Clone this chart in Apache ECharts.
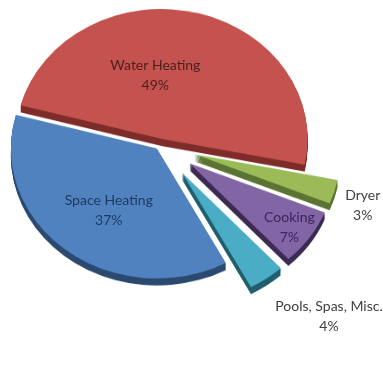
<!DOCTYPE html>
<html>
<head>
<meta charset="utf-8">
<script src="https://cdn.jsdelivr.net/npm/echarts@6/dist/echarts.min.js"></script>
<style>
html,body{margin:0;padding:0;background:#fff;}
#wrap{position:relative;width:383px;height:383px;overflow:hidden;}
#pie{position:absolute;left:0;top:0;width:383px;transform-origin:0 0;}
#lab{position:absolute;left:0;top:0;width:383px;height:383px;pointer-events:none;}
</style>
</head>
<body>
<div id="wrap"><div id="pie"></div><div id="lab"></div></div>
<script>
// ---- data ----
const categories = ['Water Heating', 'Dryer', 'Cooking', 'Pools, Spas, Misc.', 'Space Heating'];
const values = [49, 3, 7, 4, 37];

// ---- style ----
const faceColors = ['#C4524E', '#9BBB59', '#8165A5', '#4BACC6', '#5182C0'];
const sideColors = ['#7E2D2B', '#5C7434', '#3C2A52', '#215F6E', '#2C4A70'];
const textColors = ['#4a1f1f', '#404040', '#3a2560', '#404040', '#1f3a60'];
const explode = [7, 36, 36, 38, 5];
const nudgeX = [-22, 130, 67, 125, -4];
const nudgeY = [-4, 41, 44, 116, 12];

const S = 0.89;          // vertical flattening
const CX = 160, CY = 145, R = 146, DEPTH = 7, START = 165;
const FONT = 'Lato';

const pieDiv = document.getElementById('pie');
pieDiv.style.height = (383 / S) + 'px';
pieDiv.style.transform = 'scaleY(' + S + ')';

const pieChart = echarts.init(pieDiv, null, {renderer: 'canvas'});
const series = [];
const layers = [];
for (let L = DEPTH; L >= 1; L--) layers.push(L);
layers.push(0);
layers.forEach(function (L) {
  categories.forEach(function (c, i) {
    const col = L === 0 ? faceColors[i] : sideColors[i];
    series.push({
      type: 'pie',
      radius: R,
      center: [CX, (CY + L) / S],
      startAngle: START,
      clockwise: true,
      selectedMode: 'multiple',
      selectedOffset: explode[i],
      silent: true,
      animation: false,
      z: L === 0 ? 3 : 2,
      label: {show: false},
      labelLine: {show: false},
      emphasis: {disabled: true},
      select: {itemStyle: {borderWidth: 0}},
      data: values.map(function (v, j) {
        const color = j === i ? col : 'rgba(0,0,0,0)';
        return {
          name: categories[j],
          value: v,
          selected: j === i,
          itemStyle: {color: color, borderWidth: 0},
          select: {itemStyle: {color: color, borderWidth: 0}}
        };
      })
    });
  });
});
pieChart.setOption({backgroundColor: 'transparent', series: series});

const labChart = echarts.init(document.getElementById('lab'), null, {renderer: 'canvas'});
labChart.setOption({
  backgroundColor: 'transparent',
  series: [{
    type: 'pie',
    radius: R,
    center: [CX, CY],
    startAngle: START,
    clockwise: true,
    silent: true,
    animation: false,
    itemStyle: {color: 'rgba(0,0,0,0)', borderWidth: 0},
    label: {
      show: true,
      position: 'inside',
      formatter: '{b}\n{c}%',
      fontFamily: FONT,
      fontSize: 14,
      lineHeight: 20,
      align: 'center'
    },
    labelLine: {show: false},
    labelLayout: function (p) {
      const i = p.dataIndex;
      const r = p.labelRect;
      const bx = r.x + r.width / 2;
      const by = r.y + r.height / 2;
      return {
        x: bx + nudgeX[i],
        y: CY + (by - CY) * S + nudgeY[i],
        align: 'center',
        verticalAlign: 'middle'
      };
    },
    data: values.map(function (v, j) {
      return {name: categories[j], value: v, label: {color: textColors[j]}};
    })
  }]
});
</script>
</body>
</html>
